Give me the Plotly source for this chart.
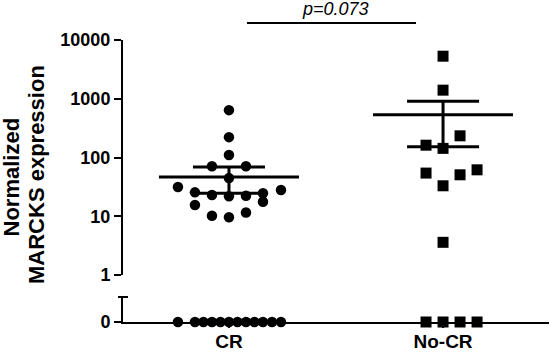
import numpy as np
import plotly.graph_objects as go

# ---------------- data ----------------
categories = ["CR", "No-CR"]
cr_values = [640, 222, 110, 71, 71, 44.6, 31.4, 27.9, 25.5, 23.0, 21.9, 22.4,
             24.7, 17.6, 15.5, 10.2, 9.6, 11.6,
             0, 0, 0, 0, 0, 0, 0, 0, 0, 0, 0, 0]
nocr_values = [5300, 1400, 234, 162, 143, 54.3, 50.8, 61.7, 33.0, 3.6,
               0, 0, 0, 0]
p_label = "p=0.073"
ytick_vals = [1, 10, 100, 1000, 10000]
ytick_text = ["1", "10", "100", "1000", "10000"]
y_title_lines = ["Normalized", "MARCKS expression"]

# horizontal scatter offsets of the points (in pixels, converted below)
cr_offsets_px = [0, 0, 0, -17, 17, 0, -51, 52, -34, -17, 0, 17, 34, 34, -34, -17, 0, 17,
                 -51, -34, -25.5, -17, -8.5, 0, 8.5, 17, 25.5, 34, 43, 52]
nocr_offsets_px = [0, 0, 17, -17, 0, -17, 17, 34, 0, 0,
                   -17, 0, 17, 34]
PX_PER_CAT = 214.0
PLOT_W, PLOT_H = 426.0, 282.0

FONT = "Liberation Sans, Arial, Helvetica, sans-serif"

fig = go.Figure()


def add_group(xc, values, offsets_px, symbol, size):
    vals = np.array(values, dtype=float)
    xs = xc + np.array(offsets_px) / PX_PER_CAT
    pos = vals > 0
    fig.add_trace(go.Scatter(x=xs[pos], y=vals[pos], mode="markers",
                             marker=dict(symbol=symbol, size=size, color="black"),
                             xaxis="x", yaxis="y", cliponaxis=False, showlegend=False))
    fig.add_trace(go.Scatter(x=xs[~pos], y=vals[~pos], mode="markers",
                             marker=dict(symbol=symbol, size=size, color="black"),
                             xaxis="x", yaxis="y2", cliponaxis=False, showlegend=False))
    mean = vals.mean()
    sem = vals.std(ddof=1) / np.sqrt(len(vals))
    hw_mean = 70 / PX_PER_CAT
    hw_cap = 36 / PX_PER_CAT
    line = dict(color="black", width=3)
    fig.add_trace(go.Scatter(x=[xc - hw_mean, xc + hw_mean], y=[mean, mean], mode="lines",
                             line=line, xaxis="x", yaxis="y", showlegend=False))
    for v in (mean + sem, mean - sem):
        fig.add_trace(go.Scatter(x=[xc - hw_cap, xc + hw_cap], y=[v, v], mode="lines",
                                 line=line, xaxis="x", yaxis="y", showlegend=False))
    fig.add_trace(go.Scatter(x=[xc, xc], y=[mean - sem, mean + sem], mode="lines",
                             line=line, xaxis="x", yaxis="y", showlegend=False))


add_group(0, cr_values, cr_offsets_px, "circle", 10.5)
add_group(1, nocr_values, nocr_offsets_px, "square", 11)

axis_common = dict(showline=True, linewidth=2, linecolor="black", ticks="outside",
                   tickwidth=2, tickcolor="black", showgrid=False, zeroline=False,
                   automargin=False)

fig.update_layout(
    width=550, height=352,
    margin=dict(l=123, r=1, t=40, b=30, autoexpand=False),
    paper_bgcolor="white", plot_bgcolor="white",
    font=dict(family=FONT, color="black"),
    xaxis=dict(domain=[0, 1], range=[-0.495, 1.495], anchor="y2",
               tickvals=[0, 1], ticktext=categories, ticklen=4, ticklabelstandoff=-3,
               tickfont=dict(size=19, weight="bold"), **axis_common),
    yaxis=dict(type="log", domain=[(322 - 275) / PLOT_H, 1], range=[0, 4], anchor="x",
               tickvals=ytick_vals, ticktext=ytick_text, ticklen=7,
               tickfont=dict(size=18, weight="bold"), **axis_common),
    yaxis2=dict(domain=[0, (322 - 297) / PLOT_H], range=[0, 1], anchor="x",
                tickvals=[0], ticktext=["0"], ticklen=7,
                tickfont=dict(size=18, weight="bold"), **axis_common),
)

# cap marking the axis break
fig.add_shape(type="line", xref="paper", yref="paper",
              x0=-5 / PLOT_W, x1=5 / PLOT_W, y0=(322 - 297) / PLOT_H, y1=(322 - 297) / PLOT_H,
              line=dict(color="black", width=2))

# significance bracket
fig.add_shape(type="line", xref="x", yref="paper",
              x0=18 / PX_PER_CAT, x1=187 / PX_PER_CAT, y0=1 + 17 / PLOT_H, y1=1 + 17 / PLOT_H,
              line=dict(color="black", width=2))
fig.add_annotation(x=106 / PX_PER_CAT, xref="x", y=1 + 31 / PLOT_H, yref="paper",
                   text="<i>" + p_label + "</i>", showarrow=False,
                   xanchor="center", yanchor="middle",
                   font=dict(size=18, family=FONT, color="black"))

# y-axis title (two lines)
for line_text, cx, cy in zip(y_title_lines, [10.5, 36], [177, 175]):
    fig.add_annotation(x=(cx - 123) / PLOT_W, xref="paper", y=(322 - cy) / PLOT_H, yref="paper",
                       text=line_text, showarrow=False, textangle=-90,
                       xanchor="center", yanchor="middle",
                       font=dict(size=22, family=FONT, color="black", weight="bold"))

fig.write_html("out.html", config={"displayModeBar": False},
               post_script="document.body.style.margin='0px';")
